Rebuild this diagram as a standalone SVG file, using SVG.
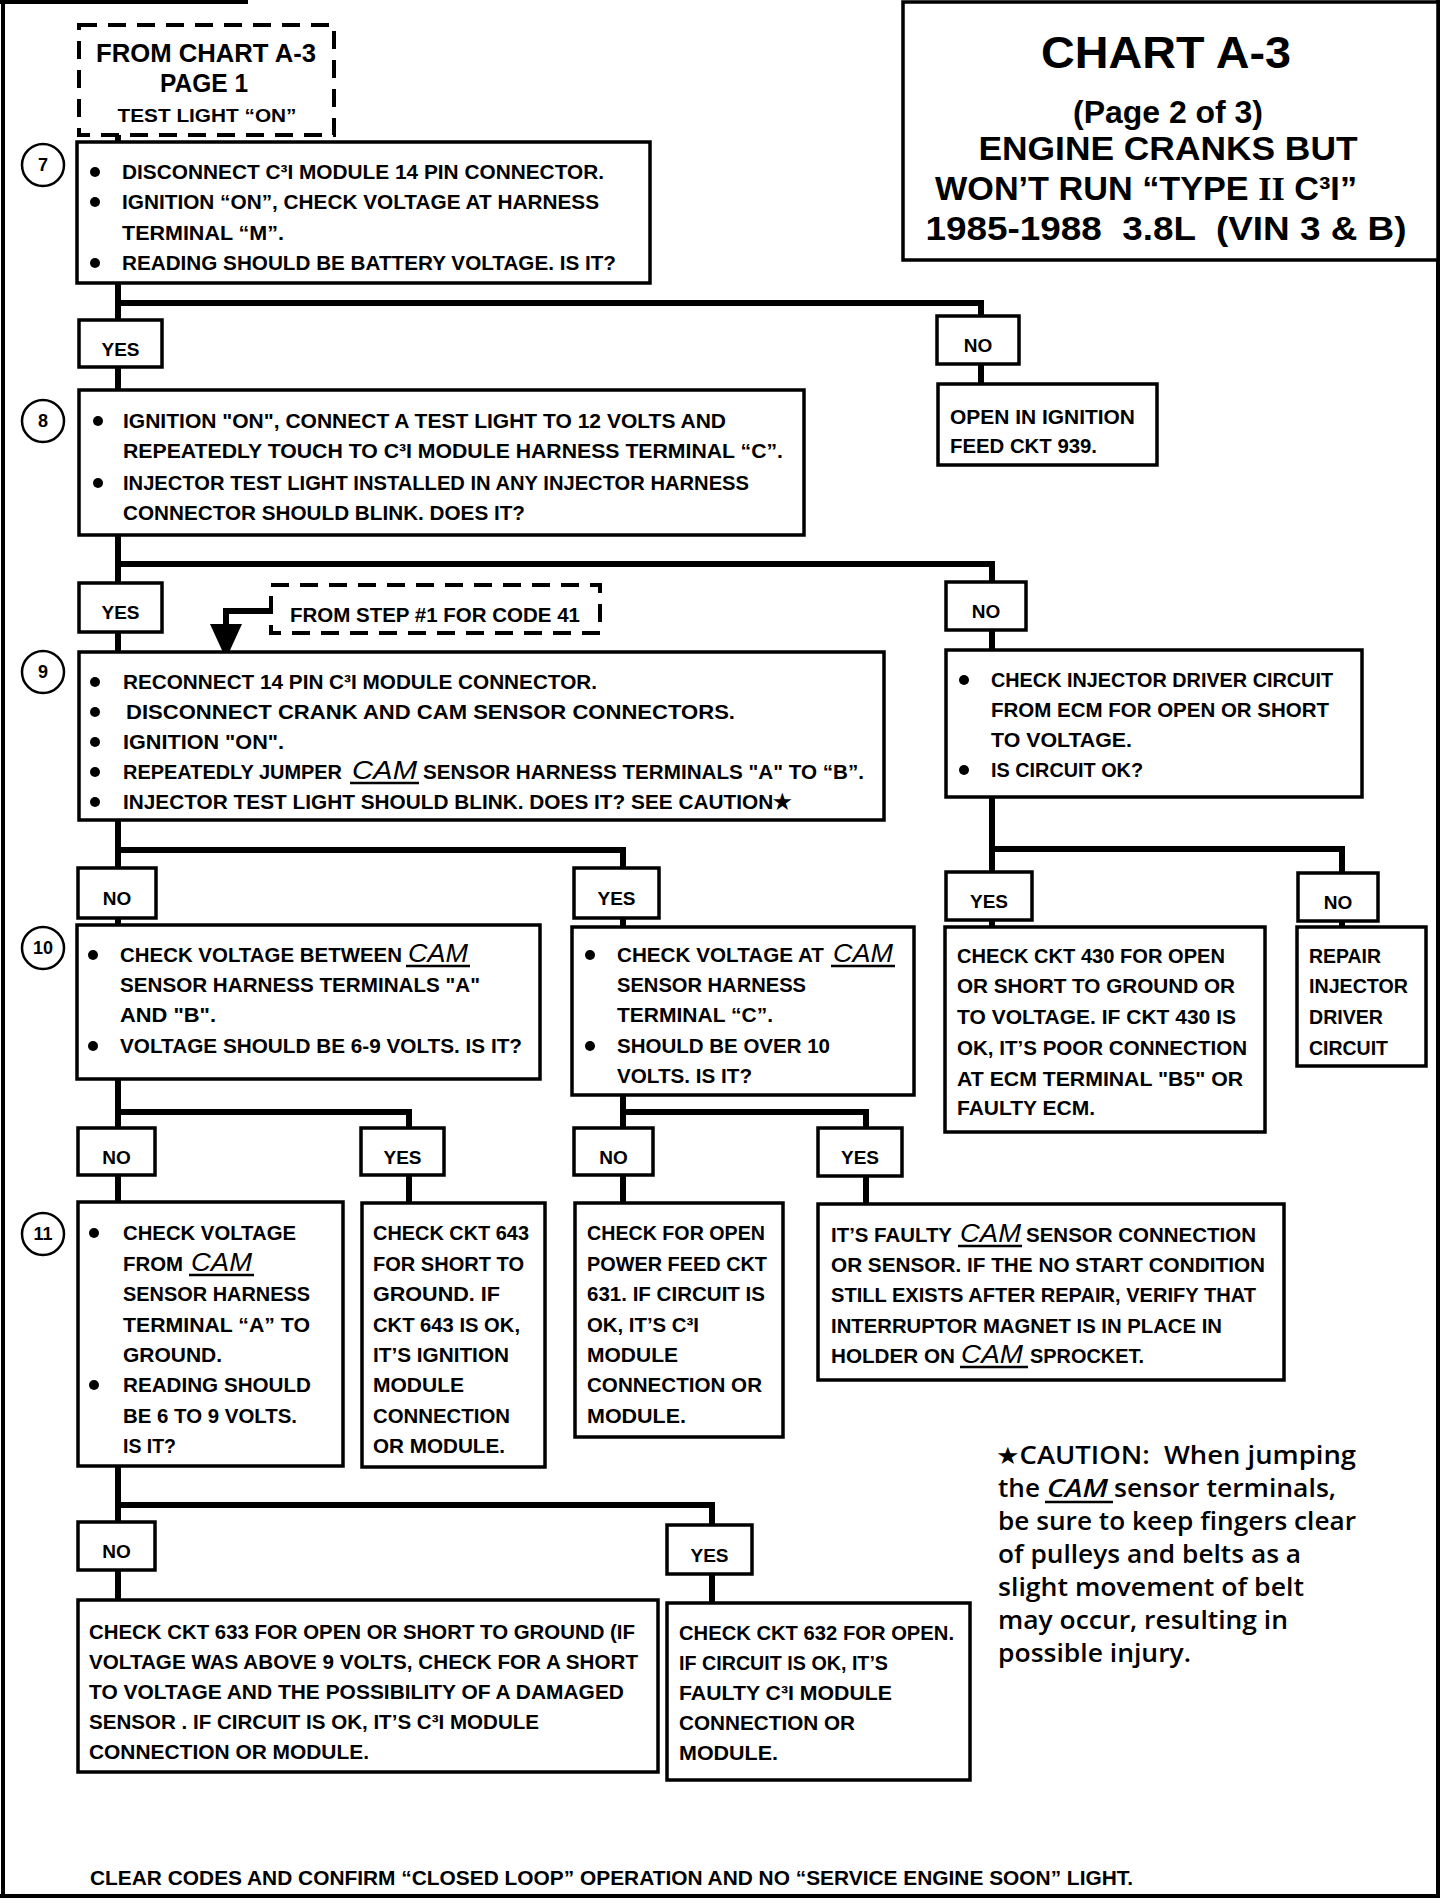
<svg xmlns="http://www.w3.org/2000/svg" width="1456" height="1904" viewBox="0 0 1456 1904">
<style>
.bg{fill:#fff}
.box{fill:#fff;stroke:#000;stroke-width:3.5}
.dbox{fill:#fff;stroke:#000;stroke-width:4;stroke-dasharray:18 11}
.num{fill:#fff;stroke:#000;stroke-width:2.5}
.conn{fill:none;stroke:#000;stroke-width:6}
.frame{fill:none;stroke:#000;stroke-width:4}
.ul{stroke:#000;stroke-width:2.5}
text{font-family:"Liberation Sans",Arial,sans-serif;font-weight:700;fill:#000}
.t{font-size:21px}
.lbl{font-size:19px;text-anchor:middle}
.n{font-size:18px;text-anchor:middle}
.cam{font-size:26px;font-style:italic;font-weight:400}
.ti{text-anchor:middle}
.cau{font-family:"Open Sans","Noto Sans",sans-serif;font-weight:600;font-size:25px}
.cauc{font-family:"Open Sans","Noto Sans",sans-serif;font-weight:600;font-size:25px;font-style:italic}
.star{font-family:"DejaVu Sans",sans-serif;font-weight:400}
</style>
<rect class="bg" x="0" y="0" width="1456" height="1904"/>

<g id="frame">
<path class="frame" d="M3 0V1898M0 1896H1440M1438 0V1898M0 2H248"/>
</g>

<g id="title">
<rect class="box" x="903" y="2" width="535" height="258"/>
<text class="ti" x="1166" y="68" font-size="44" textLength="250" lengthAdjust="spacingAndGlyphs">CHART A-3</text>
<text class="ti" x="1168" y="123" font-size="31" textLength="190" lengthAdjust="spacingAndGlyphs">(Page 2 of 3)</text>
<text class="ti" x="1168" y="160" font-size="34" textLength="379" lengthAdjust="spacingAndGlyphs">ENGINE CRANKS BUT</text>
<text class="ti" x="1146" y="200" font-size="34" textLength="422" lengthAdjust="spacingAndGlyphs">WON’T RUN “TYPE <tspan font-family="Liberation Serif,serif">II</tspan> C³I”</text>
<text class="ti" x="1166" y="240" font-size="34" textLength="481" lengthAdjust="spacingAndGlyphs" xml:space="preserve">1985-1988  3.8L  (VIN 3 &amp; B)</text>
</g>

<g id="connectors">
<path class="conn" d="M118 135V142"/>
<path class="conn" d="M118 283V320M118 303H981V316"/>
<path class="conn" d="M118 367V390"/>
<path class="conn" d="M981 364V384"/>
<path class="conn" d="M118 535V583M118 564H992V582"/>
<path class="conn" d="M118 632V652"/>
<path class="conn" d="M992 630V650"/>
<path class="conn" d="M271 611H226V628" stroke-width="8"/>
<polygon points="210,624 242,624 226,659" fill="#000"/>
<path class="conn" d="M118 820V868M118 850H623V868"/>
<path class="conn" d="M118 918V925M623 918V927"/>
<path class="conn" d="M992 797V872M992 849H1342V873"/>
<path class="conn" d="M992 920V927M1342 921V927"/>
<path class="conn" d="M118 1079V1128M118 1112H409V1128"/>
<path class="conn" d="M623 1095V1128M623 1112H866V1128"/>
<path class="conn" d="M118 1175V1202M409 1175V1203M623 1175V1203M866 1176V1204"/>
<path class="conn" d="M118 1466V1522M118 1505H712V1525"/>
<path class="conn" d="M118 1570V1600M712 1574V1603"/>
</g>

<g id="from-page1">
<rect class="dbox" x="79" y="25" width="255" height="110"/>
<text class="ti" x="206" y="62" font-size="25" textLength="220" lengthAdjust="spacingAndGlyphs">FROM CHART A-3</text>
<text class="ti" x="204" y="92" font-size="25" textLength="88" lengthAdjust="spacingAndGlyphs">PAGE 1</text>
<text class="ti" x="207" y="122" font-size="19" textLength="179" lengthAdjust="spacingAndGlyphs">TEST LIGHT “ON”</text>
</g>

<g id="step7">
<circle class="num" cx="43" cy="165" r="21"/>
<text class="n" x="43" y="171">7</text>
<rect class="box" x="77" y="142" width="573" height="141"/>
<circle cx="95" cy="172" r="5"/><circle cx="95" cy="202" r="5"/><circle cx="95" cy="263" r="5"/>
<text class="t" x="122" y="179" textLength="482" lengthAdjust="spacingAndGlyphs">DISCONNECT C³I  MODULE 14 PIN CONNECTOR.</text>
<text class="t" x="122" y="209" textLength="477" lengthAdjust="spacingAndGlyphs">IGNITION “ON”, CHECK VOLTAGE AT HARNESS</text>
<text class="t" x="122" y="240" textLength="162" lengthAdjust="spacingAndGlyphs">TERMINAL “M”.</text>
<text class="t" x="122" y="270" textLength="494" lengthAdjust="spacingAndGlyphs">READING SHOULD BE BATTERY VOLTAGE.  IS IT?</text>
</g>

<g id="yes7"><rect class="box" x="79" y="320" width="83" height="47"/><text class="lbl" x="120.5" y="356">YES</text></g>
<g id="no7"><rect class="box" x="937" y="316" width="82" height="48"/><text class="lbl" x="978" y="352">NO</text></g>

<g id="open-ignition">
<rect class="box" x="938" y="384" width="219" height="81"/>
<text class="t" x="950" y="424" textLength="185" lengthAdjust="spacingAndGlyphs">OPEN IN IGNITION</text>
<text class="t" x="950" y="453" textLength="147" lengthAdjust="spacingAndGlyphs">FEED CKT 939.</text>
</g>

<g id="step8">
<circle class="num" cx="43" cy="421" r="21"/>
<text class="n" x="43" y="427">8</text>
<rect class="box" x="79" y="390" width="725" height="145"/>
<circle cx="98" cy="421" r="5"/><circle cx="98" cy="483" r="5"/>
<text class="t" x="123" y="428" textLength="603" lengthAdjust="spacingAndGlyphs">IGNITION "ON", CONNECT A TEST LIGHT TO 12 VOLTS AND</text>
<text class="t" x="123" y="458" textLength="660" lengthAdjust="spacingAndGlyphs">REPEATEDLY TOUCH TO C³I MODULE  HARNESS TERMINAL  “C”.</text>
<text class="t" x="123" y="490" textLength="626" lengthAdjust="spacingAndGlyphs">INJECTOR TEST LIGHT INSTALLED IN ANY INJECTOR HARNESS</text>
<text class="t" x="123" y="520" textLength="402" lengthAdjust="spacingAndGlyphs">CONNECTOR  SHOULD BLINK.  DOES IT?</text>
</g>

<g id="yes8"><rect class="box" x="79" y="583" width="83" height="49"/><text class="lbl" x="120.5" y="619">YES</text></g>
<g id="no8"><rect class="box" x="946" y="582" width="80" height="48"/><text class="lbl" x="986" y="618">NO</text></g>

<g id="from-step1">
<rect class="dbox" x="271" y="585" width="329" height="48"/>
<text class="t" x="290" y="622" font-size="19" textLength="290" lengthAdjust="spacingAndGlyphs">FROM STEP #1 FOR CODE 41</text>
</g>

<g id="step9">
<circle class="num" cx="43" cy="672" r="21"/>
<text class="n" x="43" y="678">9</text>
<rect class="box" x="79" y="652" width="805" height="168"/>
<circle cx="95" cy="682" r="5"/><circle cx="95" cy="712" r="5"/><circle cx="95" cy="742" r="5"/><circle cx="95" cy="772" r="5"/><circle cx="95" cy="802" r="5"/>
<text class="t" x="123" y="689" textLength="474" lengthAdjust="spacingAndGlyphs">RECONNECT 14 PIN C³I  MODULE CONNECTOR.</text>
<text class="t" x="126" y="719" textLength="609" lengthAdjust="spacingAndGlyphs">DISCONNECT CRANK AND CAM SENSOR CONNECTORS.</text>
<text class="t" x="123" y="749" textLength="161" lengthAdjust="spacingAndGlyphs">IGNITION "ON".</text>
<text class="t" x="123" y="779" textLength="219" lengthAdjust="spacingAndGlyphs">REPEATEDLY JUMPER</text>
<text class="cam" x="352" y="779" textLength="65" lengthAdjust="spacingAndGlyphs">CAM</text>
<line class="ul" x1="350" y1="783" x2="419" y2="783"/>
<text class="t" x="423" y="779" textLength="441" lengthAdjust="spacingAndGlyphs">SENSOR HARNESS TERMINALS "A" TO “B”.</text>
<text class="t" x="123" y="809" textLength="669" lengthAdjust="spacingAndGlyphs">INJECTOR TEST LIGHT SHOULD BLINK.  DOES IT?  SEE CAUTION★</text>
</g>

<g id="check-injector">
<rect class="box" x="946" y="650" width="416" height="147"/>
<circle cx="964" cy="680" r="5"/><circle cx="964" cy="770" r="5"/>
<text class="t" x="991" y="687" textLength="342" lengthAdjust="spacingAndGlyphs">CHECK INJECTOR DRIVER CIRCUIT</text>
<text class="t" x="991" y="717" textLength="338" lengthAdjust="spacingAndGlyphs">FROM ECM FOR OPEN OR SHORT</text>
<text class="t" x="991" y="747" textLength="141" lengthAdjust="spacingAndGlyphs">TO VOLTAGE.</text>
<text class="t" x="991" y="777" textLength="152" lengthAdjust="spacingAndGlyphs">IS CIRCUIT OK?</text>
</g>

<g id="no9"><rect class="box" x="78" y="868" width="78" height="50"/><text class="lbl" x="117" y="905">NO</text></g>
<g id="yes9"><rect class="box" x="574" y="868" width="85" height="50"/><text class="lbl" x="616.5" y="905">YES</text></g>
<g id="yes-inj"><rect class="box" x="946" y="872" width="86" height="48"/><text class="lbl" x="989" y="908">YES</text></g>
<g id="no-inj"><rect class="box" x="1298" y="873" width="80" height="48"/><text class="lbl" x="1338" y="909">NO</text></g>

<g id="check-ckt430">
<rect class="box" x="945" y="927" width="320" height="205"/>
<text class="t" x="957" y="963" textLength="268" lengthAdjust="spacingAndGlyphs">CHECK CKT 430 FOR OPEN</text>
<text class="t" x="957" y="993" textLength="278" lengthAdjust="spacingAndGlyphs">OR SHORT TO GROUND OR</text>
<text class="t" x="957" y="1024" textLength="279" lengthAdjust="spacingAndGlyphs">TO VOLTAGE.  IF CKT 430 IS</text>
<text class="t" x="957" y="1055" textLength="290" lengthAdjust="spacingAndGlyphs">OK, IT’S POOR CONNECTION</text>
<text class="t" x="957" y="1086" textLength="286" lengthAdjust="spacingAndGlyphs">AT ECM TERMINAL "B5" OR</text>
<text class="t" x="957" y="1115" textLength="138" lengthAdjust="spacingAndGlyphs">FAULTY ECM.</text>
</g>

<g id="repair-injector">
<rect class="box" x="1297" y="927" width="129" height="139"/>
<text class="t" x="1309" y="963" textLength="72" lengthAdjust="spacingAndGlyphs">REPAIR</text>
<text class="t" x="1309" y="993" textLength="99" lengthAdjust="spacingAndGlyphs">INJECTOR</text>
<text class="t" x="1309" y="1024" textLength="74" lengthAdjust="spacingAndGlyphs">DRIVER</text>
<text class="t" x="1309" y="1055" textLength="79" lengthAdjust="spacingAndGlyphs">CIRCUIT</text>
</g>

<g id="step10">
<circle class="num" cx="43" cy="948" r="21"/>
<text class="n" x="43" y="954">10</text>
<rect class="box" x="77" y="925" width="463" height="154"/>
<circle cx="93" cy="955" r="5"/><circle cx="93" cy="1046" r="5"/>
<text class="t" x="120" y="962" textLength="282" lengthAdjust="spacingAndGlyphs">CHECK VOLTAGE BETWEEN</text>
<text class="cam" x="408" y="962" textLength="60" lengthAdjust="spacingAndGlyphs">CAM</text>
<line class="ul" x1="406" y1="966" x2="470" y2="966"/>
<text class="t" x="120" y="992" textLength="360" lengthAdjust="spacingAndGlyphs">SENSOR HARNESS TERMINALS "A"</text>
<text class="t" x="120" y="1022" textLength="96" lengthAdjust="spacingAndGlyphs">AND "B".</text>
<text class="t" x="120" y="1053" textLength="402" lengthAdjust="spacingAndGlyphs">VOLTAGE SHOULD BE 6-9 VOLTS.  IS IT?</text>
</g>

<g id="step10b">
<rect class="box" x="572" y="927" width="342" height="168"/>
<circle cx="590" cy="955" r="5"/><circle cx="590" cy="1046" r="5"/>
<text class="t" x="617" y="962" textLength="207" lengthAdjust="spacingAndGlyphs">CHECK VOLTAGE AT</text>
<text class="cam" x="833" y="962" textLength="60" lengthAdjust="spacingAndGlyphs">CAM</text>
<line class="ul" x1="831" y1="966" x2="895" y2="966"/>
<text class="t" x="617" y="992" textLength="189" lengthAdjust="spacingAndGlyphs">SENSOR HARNESS</text>
<text class="t" x="617" y="1022" textLength="156" lengthAdjust="spacingAndGlyphs">TERMINAL “C”.</text>
<text class="t" x="617" y="1053" textLength="213" lengthAdjust="spacingAndGlyphs">SHOULD BE OVER 10</text>
<text class="t" x="617" y="1083" textLength="135" lengthAdjust="spacingAndGlyphs">VOLTS.  IS IT?</text>
</g>

<g id="no10"><rect class="box" x="78" y="1128" width="77" height="47"/><text class="lbl" x="116.5" y="1164">NO</text></g>
<g id="yes10"><rect class="box" x="361" y="1128" width="83" height="47"/><text class="lbl" x="402.5" y="1164">YES</text></g>
<g id="no10b"><rect class="box" x="574" y="1128" width="79" height="47"/><text class="lbl" x="613.5" y="1164">NO</text></g>
<g id="yes10b"><rect class="box" x="818" y="1128" width="84" height="48"/><text class="lbl" x="860" y="1164">YES</text></g>

<g id="step11">
<circle class="num" cx="43" cy="1234" r="21"/>
<text class="n" x="43" y="1240">11</text>
<rect class="box" x="78" y="1202" width="265" height="264"/>
<circle cx="94" cy="1233" r="5"/><circle cx="94" cy="1385" r="5"/>
<text class="t" x="123" y="1240" textLength="173" lengthAdjust="spacingAndGlyphs">CHECK VOLTAGE</text>
<text class="t" x="123" y="1271" textLength="60" lengthAdjust="spacingAndGlyphs">FROM</text>
<text class="cam" x="191" y="1271" textLength="61" lengthAdjust="spacingAndGlyphs">CAM</text>
<line class="ul" x1="189" y1="1275" x2="254" y2="1275"/>
<text class="t" x="123" y="1301" textLength="187" lengthAdjust="spacingAndGlyphs">SENSOR HARNESS</text>
<text class="t" x="123" y="1332" textLength="187" lengthAdjust="spacingAndGlyphs">TERMINAL “A” TO</text>
<text class="t" x="123" y="1362" textLength="99" lengthAdjust="spacingAndGlyphs">GROUND.</text>
<text class="t" x="123" y="1392" textLength="188" lengthAdjust="spacingAndGlyphs">READING SHOULD</text>
<text class="t" x="123" y="1423" textLength="174" lengthAdjust="spacingAndGlyphs">BE 6 TO 9 VOLTS.</text>
<text class="t" x="123" y="1453" textLength="53" lengthAdjust="spacingAndGlyphs">IS IT?</text>
</g>

<g id="check-ckt643">
<rect class="box" x="362" y="1203" width="183" height="264"/>
<text class="t" x="373" y="1240" textLength="156" lengthAdjust="spacingAndGlyphs">CHECK CKT 643</text>
<text class="t" x="373" y="1271" textLength="151" lengthAdjust="spacingAndGlyphs">FOR SHORT TO</text>
<text class="t" x="373" y="1301" textLength="127" lengthAdjust="spacingAndGlyphs">GROUND.  IF</text>
<text class="t" x="373" y="1332" textLength="147" lengthAdjust="spacingAndGlyphs">CKT 643 IS OK,</text>
<text class="t" x="373" y="1362" textLength="136" lengthAdjust="spacingAndGlyphs">IT’S IGNITION</text>
<text class="t" x="373" y="1392" textLength="91" lengthAdjust="spacingAndGlyphs">MODULE</text>
<text class="t" x="373" y="1423" textLength="137" lengthAdjust="spacingAndGlyphs">CONNECTION</text>
<text class="t" x="373" y="1453" textLength="132" lengthAdjust="spacingAndGlyphs">OR MODULE.</text>
</g>

<g id="check-open-feed">
<rect class="box" x="575" y="1203" width="208" height="234"/>
<text class="t" x="587" y="1240" textLength="178" lengthAdjust="spacingAndGlyphs">CHECK FOR OPEN</text>
<text class="t" x="587" y="1271" textLength="180" lengthAdjust="spacingAndGlyphs">POWER FEED CKT</text>
<text class="t" x="587" y="1301" textLength="178" lengthAdjust="spacingAndGlyphs">631.  IF CIRCUIT IS</text>
<text class="t" x="587" y="1332" textLength="112" lengthAdjust="spacingAndGlyphs">OK, IT’S C³I</text>
<text class="t" x="587" y="1362" textLength="91" lengthAdjust="spacingAndGlyphs">MODULE</text>
<text class="t" x="587" y="1392" textLength="175" lengthAdjust="spacingAndGlyphs">CONNECTION OR</text>
<text class="t" x="587" y="1423" textLength="99" lengthAdjust="spacingAndGlyphs">MODULE.</text>
</g>

<g id="faulty-cam">
<rect class="box" x="818" y="1204" width="466" height="176"/>
<text class="t" x="831" y="1242" textLength="121" lengthAdjust="spacingAndGlyphs">IT’S FAULTY</text>
<text class="cam" x="960" y="1242" textLength="61" lengthAdjust="spacingAndGlyphs">CAM</text>
<line class="ul" x1="958" y1="1246" x2="1022" y2="1246"/>
<text class="t" x="1026" y="1242" textLength="230" lengthAdjust="spacingAndGlyphs">SENSOR CONNECTION</text>
<text class="t" x="831" y="1272" textLength="434" lengthAdjust="spacingAndGlyphs">OR SENSOR.  IF THE NO START CONDITION</text>
<text class="t" x="831" y="1302" textLength="425" lengthAdjust="spacingAndGlyphs">STILL EXISTS AFTER REPAIR, VERIFY THAT</text>
<text class="t" x="831" y="1333" textLength="391" lengthAdjust="spacingAndGlyphs">INTERRUPTOR MAGNET IS IN PLACE IN</text>
<text class="t" x="831" y="1363" textLength="124" lengthAdjust="spacingAndGlyphs">HOLDER ON</text>
<text class="cam" x="961" y="1363" textLength="62" lengthAdjust="spacingAndGlyphs">CAM</text>
<line class="ul" x1="960" y1="1367" x2="1028" y2="1367"/>
<text class="t" x="1030" y="1363" textLength="114" lengthAdjust="spacingAndGlyphs">SPROCKET.</text>
</g>

<g id="no11"><rect class="box" x="78" y="1522" width="77" height="48"/><text class="lbl" x="116.5" y="1558">NO</text></g>
<g id="yes11"><rect class="box" x="667" y="1525" width="85" height="49"/><text class="lbl" x="709.5" y="1562">YES</text></g>

<g id="check-ckt633">
<rect class="box" x="78" y="1600" width="580" height="172"/>
<text class="t" x="89" y="1639" textLength="546" lengthAdjust="spacingAndGlyphs">CHECK CKT 633 FOR OPEN OR SHORT TO GROUND (IF</text>
<text class="t" x="89" y="1669" textLength="549" lengthAdjust="spacingAndGlyphs">VOLTAGE WAS ABOVE 9 VOLTS, CHECK FOR A SHORT</text>
<text class="t" x="89" y="1699" textLength="535" lengthAdjust="spacingAndGlyphs">TO VOLTAGE AND THE POSSIBILITY OF A DAMAGED</text>
<text class="t" x="89" y="1729" textLength="450" lengthAdjust="spacingAndGlyphs">SENSOR .  IF CIRCUIT IS OK, IT’S  C³I MODULE</text>
<text class="t" x="89" y="1759" textLength="280" lengthAdjust="spacingAndGlyphs">CONNECTION OR MODULE.</text>
</g>

<g id="check-ckt632">
<rect class="box" x="667" y="1603" width="303" height="177"/>
<text class="t" x="679" y="1640" textLength="275" lengthAdjust="spacingAndGlyphs">CHECK CKT 632 FOR OPEN.</text>
<text class="t" x="679" y="1670" textLength="209" lengthAdjust="spacingAndGlyphs">IF CIRCUIT IS OK, IT’S</text>
<text class="t" x="679" y="1700" textLength="213" lengthAdjust="spacingAndGlyphs">FAULTY C³I MODULE</text>
<text class="t" x="679" y="1730" textLength="176" lengthAdjust="spacingAndGlyphs">CONNECTION OR</text>
<text class="t" x="679" y="1760" textLength="99" lengthAdjust="spacingAndGlyphs">MODULE.</text>
</g>

<g id="caution">
<text class="cau" x="996" y="1464" textLength="360" lengthAdjust="spacingAndGlyphs" xml:space="preserve"><tspan class="star" font-size="24">★</tspan>CAUTION:  When jumping</text>
<text class="cau" x="998" y="1497" textLength="42" lengthAdjust="spacingAndGlyphs">the</text>
<text class="cauc" x="1047" y="1497" textLength="61" lengthAdjust="spacingAndGlyphs">CAM</text>
<line class="ul" x1="1045" y1="1502" x2="1113" y2="1502"/>
<text class="cau" x="1114" y="1497" textLength="222" lengthAdjust="spacingAndGlyphs">sensor terminals,</text>
<text class="cau" x="998" y="1530" textLength="358" lengthAdjust="spacingAndGlyphs">be sure to keep fingers clear</text>
<text class="cau" x="998" y="1563" textLength="303" lengthAdjust="spacingAndGlyphs">of pulleys and belts as a</text>
<text class="cau" x="998" y="1596" textLength="306" lengthAdjust="spacingAndGlyphs">slight movement of belt</text>
<text class="cau" x="998" y="1629" textLength="290" lengthAdjust="spacingAndGlyphs">may occur, resulting in</text>
<text class="cau" x="998" y="1662" textLength="193" lengthAdjust="spacingAndGlyphs">possible injury.</text>
</g>

<g id="footer">
<text class="t" x="90" y="1885" font-size="20" textLength="1043" lengthAdjust="spacingAndGlyphs">CLEAR CODES AND CONFIRM “CLOSED LOOP”  OPERATION AND NO “SERVICE ENGINE SOON” LIGHT.</text>
</g>
</svg>
